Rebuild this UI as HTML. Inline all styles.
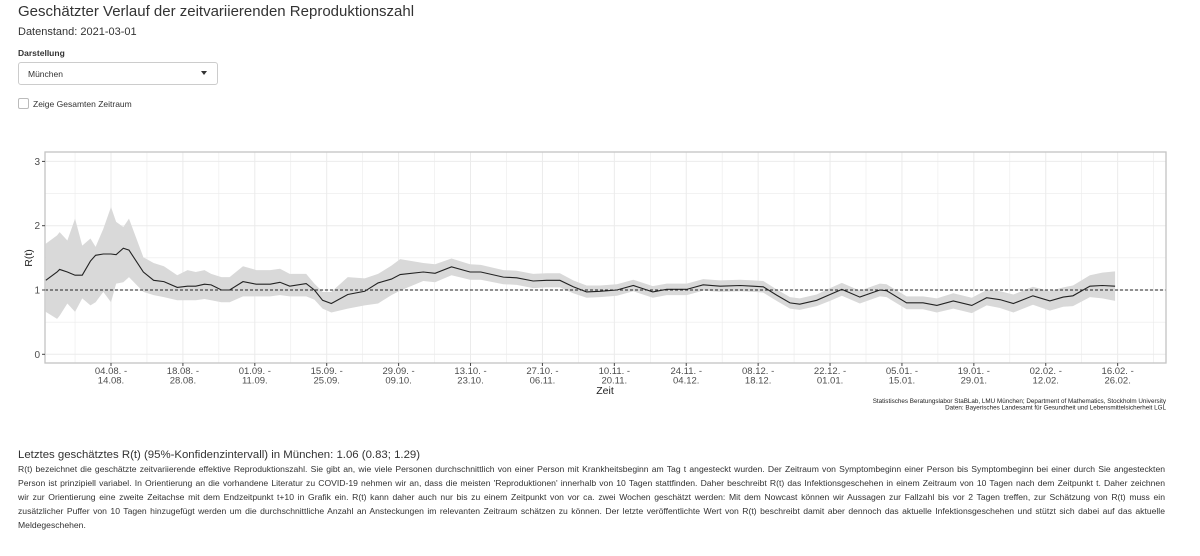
<!DOCTYPE html>
<html><head><meta charset="utf-8">
<style>
body{margin:0;width:1200px;height:556px;background:#fff;font-family:"Liberation Sans",sans-serif;color:#333;position:relative;overflow:hidden}
.a{position:absolute;white-space:nowrap}
.p{position:absolute;left:18px;width:1147px;font-size:8.6px;line-height:14px;color:#333}
.p div{text-align:justify;text-align-last:justify;white-space:nowrap;overflow:hidden}
.p div.l{text-align-last:left}
</style></head><body>
<div class="a" style="left:18px;top:3px;font-size:15px;color:#333">Geschätzter Verlauf der zeitvariierenden Reproduktionszahl</div>
<div class="a" style="left:18px;top:26px;font-size:11px">Datenstand: 2021-03-01</div>
<div class="a" style="left:18px;top:48px;font-size:8.5px;font-weight:bold">Darstellung</div>
<div class="a" style="left:18px;top:62px;width:200px;height:23px;border:1px solid #ccc;border-radius:3px;box-sizing:border-box">
 <span style="position:absolute;left:9px;top:6px;font-size:8.5px">München</span>
 <span style="position:absolute;left:182px;top:8px;width:0;height:0;border-left:3.5px solid transparent;border-right:3.5px solid transparent;border-top:4px solid #333"></span>
</div>
<div class="a" style="left:18px;top:98px;width:11px;height:11px;border:1px solid #bbb;border-radius:2px;box-sizing:border-box"></div>
<div class="a" style="left:33px;top:99px;font-size:8.5px">Zeige Gesamten Zeitraum</div>

<svg id="chart" width="1200" height="420" style="position:absolute;left:0;top:0"></svg>

<div class="a" style="left:18px;top:449px;font-size:11.4px">Letztes geschätztes R(t) (95%-Konfidenzintervall) in München: 1.06 (0.83; 1.29)</div>
<div class="p" style="top:462px">
<div>R(t) bezeichnet die geschätzte zeitvariierende effektive Reproduktionszahl. Sie gibt an, wie viele Personen durchschnittlich von einer Person mit Krankheitsbeginn am Tag t angesteckt wurden. Der Zeitraum von Symptombeginn einer Person bis Symptombeginn bei einer durch Sie angesteckten</div>
<div>Person ist prinzipiell variabel. In Orientierung an die vorhandene Literatur zu COVID-19 nehmen wir an, dass die meisten 'Reproduktionen' innerhalb von 10 Tagen stattfinden. Daher beschreibt R(t) das Infektionsgeschehen in einem Zeitraum von 10 Tagen nach dem Zeitpunkt t. Daher zeichnen</div>
<div>wir zur Orientierung eine zweite Zeitachse mit dem Endzeitpunkt t+10 in Grafik ein. R(t) kann daher auch nur bis zu einem Zeitpunkt von vor ca. zwei Wochen geschätzt werden: Mit dem Nowcast können wir Aussagen zur Fallzahl bis vor 2 Tagen treffen, zur Schätzung von R(t) muss ein</div>
<div>zusätzlicher Puffer von 10 Tagen hinzugefügt werden um die durchschnittliche Anzahl an Ansteckungen im relevanten Zeitraum schätzen zu können. Der letzte veröffentlichte Wert von R(t) beschreibt damit aber dennoch das aktuelle Infektionsgeschehen und stützt sich dabei auf das aktuelle</div>
<div class="l">Meldegeschehen.</div>
</div>

<script>
// days relative to 04.08.
const days = [-12.7,-10.5,-10,-8.5,-7,-5.6,-4,-3,-1.5,0,1,2.4,3.5,6.3,8.3,10.3,12.9,14.9,16.5,18.2,19.5,21.5,23.1,25.7,28.3,31,32.9,34.8,38,39.6,41.2,42.9,46.1,49.4,52,54.6,56.3,60.8,63.1,66.3,69.9,72,76.4,79,82.2,84.8,87.4,90,92.6,95.2,98.5,101.7,105.5,108.2,112.1,115.3,118.6,122.5,125,127,129.6,132.2,134.1,137.4,140,142.3,145.8,149.7,151,154.9,158.1,160.8,164,167.6,170.5,173.1,175.7,179.5,182.8,185.4,187.3,190.6,193,195.5];
const rMedian = [1.15,1.28,1.32,1.28,1.23,1.23,1.45,1.54,1.56,1.56,1.55,1.65,1.62,1.28,1.15,1.13,1.04,1.06,1.06,1.09,1.08,1.0,1.0,1.13,1.09,1.09,1.12,1.06,1.10,1.0,0.84,0.79,0.93,0.98,1.11,1.17,1.24,1.28,1.26,1.36,1.28,1.28,1.20,1.19,1.14,1.15,1.15,1.05,0.97,0.98,1.0,1.07,0.97,1.01,1.01,1.08,1.06,1.07,1.06,1.05,0.92,0.80,0.78,0.84,0.93,1.01,0.89,1.0,0.99,0.80,0.80,0.76,0.83,0.76,0.88,0.85,0.79,0.91,0.83,0.89,0.91,1.06,1.07,1.06];
const rUpper = [1.72,1.85,1.90,1.77,2.11,1.69,1.80,1.67,1.95,2.29,2.06,1.98,2.11,1.51,1.42,1.37,1.23,1.31,1.28,1.31,1.25,1.20,1.20,1.37,1.31,1.31,1.33,1.25,1.25,1.10,0.97,0.97,1.20,1.18,1.25,1.38,1.48,1.42,1.40,1.49,1.40,1.39,1.31,1.30,1.25,1.26,1.26,1.15,1.07,1.07,1.09,1.16,1.06,1.10,1.10,1.17,1.15,1.16,1.15,1.14,1.01,0.89,0.87,0.93,1.03,1.11,0.99,1.10,1.09,0.90,0.90,0.87,0.95,0.88,1.00,0.98,0.93,1.05,0.98,1.04,1.07,1.23,1.27,1.29];
const rLower = [0.66,0.55,0.60,0.79,0.66,0.87,0.76,0.81,0.97,0.81,1.10,1.12,1.20,0.97,0.92,0.89,0.84,0.84,0.84,0.86,0.84,0.81,0.81,0.90,0.90,0.90,0.92,0.90,0.90,0.85,0.71,0.65,0.71,0.76,0.79,0.92,0.99,1.14,1.12,1.23,1.16,1.16,1.09,1.08,1.03,1.04,1.04,0.95,0.88,0.89,0.91,0.98,0.88,0.92,0.92,0.99,0.97,0.98,0.97,0.96,0.83,0.71,0.69,0.75,0.83,0.91,0.79,0.90,0.89,0.70,0.70,0.65,0.71,0.64,0.76,0.72,0.65,0.77,0.68,0.74,0.75,0.89,0.87,0.83];
const yTicks = [0,1,2,3];
const xTickDays = [0,14,28,42,56,70,84,98,112,126,140,154,168,182,196];
const xTickLine1 = ["04.08. -","18.08. -","01.09. -","15.09. -","29.09. -","13.10. -","27.10. -","10.11. -","24.11. -","08.12. -","22.12. -","05.01. -","19.01. -","02.02. -","16.02. -"];
const xTickLine2 = ["14.08.","28.08.","11.09.","25.09.","09.10.","23.10.","06.11.","20.11.","04.12.","18.12.","01.01.","15.01.","29.01.","12.02.","26.02."];

const NS="http://www.w3.org/2000/svg";
const svg=document.getElementById('chart');
const L=45,R=1166,T=152,B=363;
const xs=d=>111+d*5.136;
const ys=v=>354.3-v*64.3;
function mk(tag,attrs,parent){const e=document.createElementNS(NS,tag);for(const k in attrs)e.setAttribute(k,attrs[k]);(parent||svg).appendChild(e);return e;}
const g=mk('g',{});


for(let v=-0.5;v<=3.5;v+=0.5){const y=ys(v);if(y<T||y>B)continue;const l=mk('line',{x1:L,x2:R,y1:y,y2:y,stroke:'#ebebeb','stroke-width':v%1===0?1:0.6},g);}
for(let d=-7;d<=210;d+=7){const x=xs(d);if(x<L||x>R)continue;const l=mk('line',{x1:x,x2:x,y1:T,y2:B,stroke:'#ebebeb','stroke-width':d%14===0?1:0.6},g);}
let pts=days.map((d,i)=>xs(d)+','+ys(rUpper[i]));
for(let i=days.length-1;i>=0;i--)pts.push(xs(days[i])+','+ys(rLower[i]));
const band=mk('polygon',{points:pts.join(' '),fill:'#d9d9d9'});


const ref=mk('line',{x1:L,x2:R,y1:ys(1),y2:ys(1),stroke:'#222','stroke-width':1,'stroke-dasharray':'3,2'});


const line=mk('polyline',{points:days.map((d,i)=>xs(d)+','+ys(rMedian[i])).join(' '),fill:'none',stroke:'#222','stroke-width':1.1});


const fr=mk('rect',{x:L,y:T,width:R-L,height:B-T,fill:'none',stroke:'#c4c4c4','stroke-width':1.3});


yTicks.forEach(v=>{const y=ys(v);
 const tk=mk('line',{x1:L-3,x2:L,y1:y,y2:y,stroke:'#444'});
 const t=mk('text',{x:L-5,y:y+3.5,'text-anchor':'end','font-size':10,fill:'#4d4d4d'});t.textContent=v;});
xTickDays.forEach((d,i)=>{const x=xs(d);
 const tk=mk('line',{x1:x,x2:x,y1:B,y2:B+3,stroke:'#444'});
 const t=mk('text',{x:x,y:374,'text-anchor':'middle','font-size':9.5,fill:'#4d4d4d'});t.textContent=xTickLine1[i];
 const t2=mk('text',{x:x,y:383.5,'text-anchor':'middle','font-size':9.5,fill:'#4d4d4d'});t2.textContent=xTickLine2[i];});
const xt=mk('text',{x:605,y:394,'text-anchor':'middle','font-size':10.5,fill:'#222'});xt.textContent='Zeit';


const yt=mk('text',{x:0,y:0,transform:'translate(32,258) rotate(-90)','text-anchor':'middle','font-size':10.5,fill:'#222'});yt.textContent='R(t)';


const c1=mk('text',{x:1166,y:403,'text-anchor':'end','font-size':6.3,fill:'#222'});c1.textContent='Statistisches Beratungslabor StaBLab, LMU München; Department of Mathematics, Stockholm University';


const c2=mk('text',{x:1166,y:409.5,'text-anchor':'end','font-size':6.3,fill:'#222'});c2.textContent='Daten: Bayerisches Landesamt für Gesundheit und Lebensmittelsicherheit LGL';


</script>
</body></html>
